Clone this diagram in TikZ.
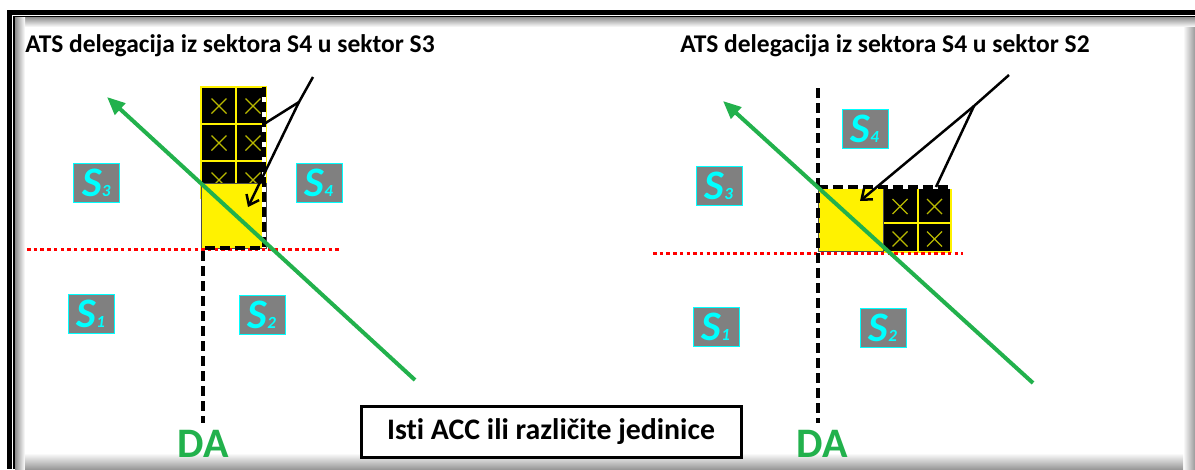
\documentclass[tikz,border=0pt]{standalone}
\usepackage{fontspec}
\setmainfont{Carlito}[Ligatures={NoCommon}]
\usetikzlibrary{arrows.meta}
\definecolor{dagreen}{RGB}{34,177,76}
\definecolor{xcol}{RGB}{185,185,0}
\definecolor{lblgray}{RGB}{128,128,128}
\definecolor{lblcyan}{RGB}{0,255,255}
\tikzset{
 sector/.style={fill=lblgray, draw=lblcyan, line width=1pt, minimum width=46pt, minimum height=39pt, inner sep=0pt, text=lblcyan},
 titletext/.style={font=\fontsize{25.5}{25.5}\selectfont\bfseries, anchor=base, inner sep=0pt},
 dalabel/.style={font=\fontsize{42}{42}\selectfont\bfseries, text=dagreen, anchor=base, inner sep=0pt},
 boundary/.style={line width=3.5pt, dash pattern=on 10pt off 5pt},
 underlay/.style={white, line width=3.5pt},
 redline/.style={red, line width=3pt, dash pattern=on 3.5pt off 3.2pt},
 track/.style={dagreen, line width=4pt, {Triangle[length=18pt,width=15pt]}-},
 pointer/.style={line width=2.5pt},
 pointerarrow/.style={line width=2.5pt, -{Straight Barb[length=9pt,width=14pt]}},
 cellbox/.style={fill=black, draw=yellow, line width=1.5pt},
 crossline/.style={xcol, line width=1.2pt},
 yelsq/.style={fill=yellow, draw=black!70, line width=0.8pt},
 accbox/.style={draw, line width=3pt, minimum width=380pt, minimum height=51pt, inner sep=0pt, font=\fontsize{29.8}{29.8}\selectfont\bfseries},
}
\newcommand{\slab}[1]{{\fontsize{42}{42}\selectfont\bfseries\itshape S}{\fontsize{17}{17}\selectfont\bfseries\itshape #1}}
\newcommand{\xmark}[2]{\draw[crossline] (#1-7.5,#2-7.5) -- (#1+7.5,#2+7.5) (#1-7.5,#2+7.5) -- (#1+7.5,#2-7.5);}
\begin{document}
\begin{tikzpicture}[x=1pt,y=-1pt]
\useasboundingbox (0,0) rectangle (1195,469);
% frame shadows
\shade[top color=black!45, bottom color=white] (15,17) rectangle (1195,27);
\shade[left color=black!45, right color=white] (15,17) rectangle (25,469);
\shade[left color=white, right color=black!40] (1183,27) rectangle (1195,469);
\shade[top color=white, bottom color=black!40] (25,453) rectangle (1183,469);
% frame lines
\fill (7,10) rectangle (1195,15);
\fill (7,10) rectangle (12,469);
\fill (13,15.8) rectangle (1195,17);
\fill (13,15.8) rectangle (14.8,469);

% ---------- left diagram ----------
\foreach \xa/\xb in {201/236,236/266}
  \foreach \ya/\yb in {87/124,124/161,161/198}
    \draw[cellbox] (\xa,\ya) rectangle (\xb,\yb);
\foreach \cx in {219,253}
  \foreach \cy in {106,143,180}
    \xmark{\cx}{\cy}
\draw[yelsq] (201,183) rectangle (266,248);
\draw[redline] (27,249) -- (340,249);
\draw[underlay] (264,87) -- (264,248);
\draw[boundary] (264,87) -- (264,248) -- (203,248) -- (203,423);
\coordinate (lgA) at (107,97);
\coordinate (lgB) at (415,380);
\draw[track] (lgA) -- (lgB);
\coordinate (lpS) at (313,77);
\coordinate (lpH) at (299,102);
\coordinate (lpE) at (264,124);
\coordinate (lpT) at (248,207);
\draw[pointer] (lpS) -- (lpH) -- (lpE);
\draw[pointerarrow] (lpH) -- (lpT);
\node[titletext] (ltitle) at (230,52) {ATS delegacija iz sektora S4 u sektor S3};
\node[sector] (lS3) at (96.5,182.5) {\slab{3}};
\node[sector] (lS4) at (319,182.5) {\slab{4}};
\node[sector] (lS1) at (91,313.5) {\slab{1}};
\node[sector] (lS2) at (262,314.5) {\slab{2}};
\node[dalabel] (lda) at (203,457) {DA};

% ---------- right diagram ----------
\foreach \xa/\xb in {883/918,918/951}
  \foreach \ya/\yb in {187/223,223/252}
    \draw[cellbox] (\xa,\ya) rectangle (\xb,\yb);
\foreach \cx in {900,934.5}
  \foreach \cy in {206.5,239}
    \xmark{\cx}{\cy}
\draw[yelsq] (818,187) rectangle (883,251);
\draw[redline] (653,253) -- (963,253);
\draw[underlay] (818,187) -- (952,187);
\draw[boundary] (818,88) -- (818,423);
\draw[boundary] (818,187) -- (952,187);
\coordinate (rgA) at (723,101);
\coordinate (rgB) at (1033,383);
\draw[track] (rgA) -- (rgB);
\coordinate (rpS) at (1009,75);
\coordinate (rpH) at (974,106);
\coordinate (rpE) at (936,187);
\coordinate (rpT) at (860,201);
\draw[pointer] (rpS) -- (rpH) -- (rpE);
\draw[pointerarrow] (rpH) -- (rpT);
\node[titletext] (rtitle) at (885,52) {ATS delegacija iz sektora S4 u sektor S2};
\node[sector] (rS3) at (719,185.5) {\slab{3}};
\node[sector] (rS4) at (865,128.5) {\slab{4}};
\node[sector] (rS1) at (716,326.5) {\slab{1}};
\node[sector] (rS2) at (883,327.5) {\slab{2}};
\node[dalabel] (rda) at (822,457) {DA};

% ---------- common label ----------
\node[accbox, fill=white] (acc) at (551,431.5) {Isti ACC ili različite jedinice};
\end{tikzpicture}
\end{document}
